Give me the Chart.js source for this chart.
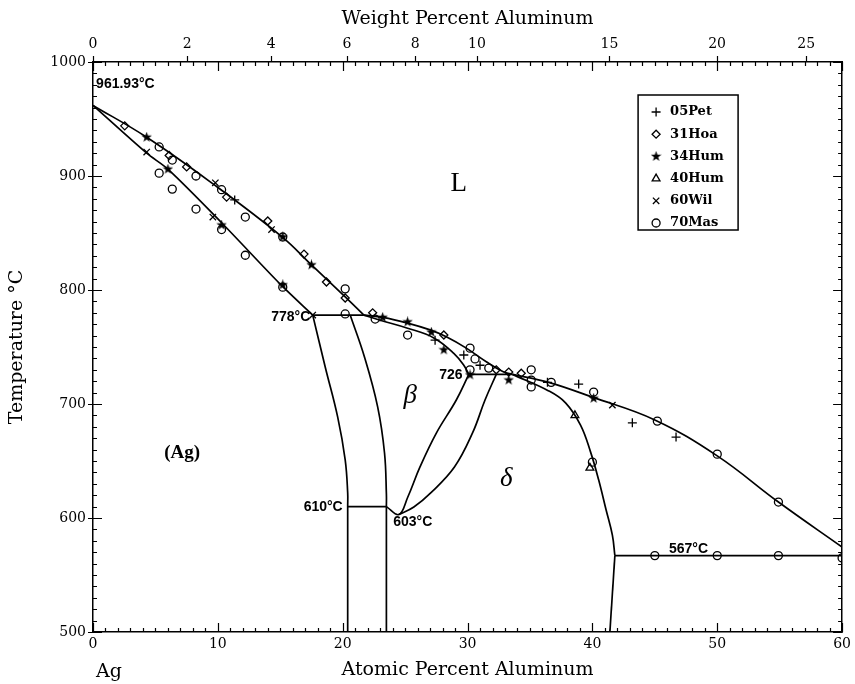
<!DOCTYPE html>
<html>
<head>
<meta charset="utf-8">
<script src="https://cdn.jsdelivr.net/npm/chart.js@4.4.0/dist/chart.umd.min.js"></script>
<style>
  body { margin: 0; background: #fff; }
  #wrap { width: 855px; height: 684px; }
</style>
</head>
<body>
<div id="wrap"><canvas id="phase" width="855" height="684"></canvas></div>
<script>
// Ag-Al phase diagram, x = atomic % Al, y = temperature in C

// phase boundaries
const liqLeftX = [0, 4.3, 9.5, 15.1, 17.5, 20.2, 21.7];
const liqLeftT = [961.93, 934, 894, 847, 822, 794, 778];
const solAgX = [0, 4.3, 6.0, 10.3, 15.1, 17.6];
const solAgT = [961.93, 920, 906, 859, 804, 778];
const peri778X = [17.6, 21.7];
const peri778T = [778, 778];
const solvusAgX = [17.6, 18.6, 19.6, 20.2, 20.4, 20.4, 20.4];
const solvusAgT = [778, 732.5, 688.5, 651, 622, 610, 500];
const betaLeftX = [20.6, 21.75, 22.8, 23.35, 23.5, 23.5, 23.5];
const betaLeftT = [778, 741, 697.5, 657, 621, 610, 500];
const eut610X = [20.4, 23.5];
const eut610T = [610, 610];
const betaInnerX = [23.5, 24.5, 25.2, 26.2, 27.5, 29.1, 30.1];
const betaInnerT = [610, 603, 618, 645, 674.5, 703.5, 726];
const betaOuterX = [24.5, 25.7, 27.05, 28.95, 30.4, 31.4, 32.3];
const betaOuterT = [603, 609.6, 622, 644.7, 674.6, 703.5, 726];
const liqMidX = [21.7, 23.2, 25.2, 27.0, 28.3, 29.9, 31.5, 32.9, 33.6];
const liqMidT = [778, 776, 771, 765, 759, 749, 737, 728, 726];
const solBetaX = [21.7, 23.0, 25.2, 27.3, 28.9, 29.7, 30.1];
const solBetaT = [778, 773.5, 766.5, 758, 744.5, 734, 726];
const peri726X = [30.1, 33.6];
const peri726T = [726, 726];
const liqRightX = [33.6, 36.5, 40.0, 45.0, 50.0, 54.9, 60];
const liqRightT = [726, 719, 706, 686, 654.5, 614, 574.5];
const solDeltaX = [33.6, 36.5, 37.85, 39.05, 39.85, 40.5, 41.1, 41.6, 41.8];
const solDeltaT = [726, 711.5, 701, 681.5, 658, 633.5, 607, 585, 567];
const eut567X = [41.8, 60];
const eut567T = [567, 567];
const deltaLowX = [41.8, 41.4];
const deltaLowT = [567, 500];

// experimental points
const petX = [11.35, 27.4, 29.7, 31.0, 36.4, 38.9, 43.2, 46.7];
const petT = [879, 756, 743, 734, 719, 717.5, 683.5, 671];
const hoaX = [2.54, 6.1, 7.5, 10.7, 14.0, 16.9, 18.7, 20.2, 22.4, 28.1, 32.3, 33.3, 34.3];
const hoaT = [944, 918, 908, 881.5, 860.5, 831.5, 807, 793, 780, 760.5, 730, 728, 727];
const hum34X = [4.3, 6.0, 10.3, 15.2, 15.2, 17.5, 23.2, 25.2, 27.1, 28.1, 30.2, 33.3, 40.1];
const hum34T = [934, 906, 857, 846.5, 804.5, 822, 776, 772, 763, 747.5, 725.5, 721, 705];
const hum40X = [38.6, 39.8];
const hum40T = [690, 644];
const wilX = [4.3, 9.6, 9.8, 14.3, 17.6, 41.6];
const wilT = [921, 864, 894, 853, 778, 699];
const masX = [5.3, 6.35, 8.25, 10.3, 12.2, 15.2, 20.2, 5.3, 6.35, 8.25, 10.3, 12.2, 15.2, 20.2,
  22.6, 25.2, 30.2, 30.6, 31.7, 30.2, 35.1, 35.1, 35.1, 36.7, 40.1, 40.0, 45.2, 50.0, 54.9, 60.0,
  45.0, 50.0, 54.9];
const masT = [925.5, 914, 900, 888, 864, 846.5, 801, 902.5, 888.5, 871, 853, 830.5, 802.5, 779,
  774.5, 760.5, 749, 739.5, 731.5, 730, 730, 721, 715, 719, 710.5, 649, 685, 656, 614, 565,
  567, 567, 567];

const sourceNames = ['05Pet', '31Hoa', '34Hum', '40Hum', '60Wil', '70Mas'];

// axis ticks
const atTicks = [0, 10, 20, 30, 40, 50, 60];
const tempTicks = [500, 600, 700, 800, 900, 1000];
const wtTicks = [0, 2, 4, 6, 8, 10, 15, 20, 25];

function wtToAt(w) {
  const a = w / 26.98, g = (100 - w) / 107.87;
  return 100 * a / (a + g);
}

function pts(xs, ys) {
  return xs.map((x, i) => ({ x: x, y: ys[i] }));
}

// filled star for 34Hum
function makeStar(size) {
  const c = document.createElement('canvas');
  c.width = c.height = size;
  const g = c.getContext('2d');
  g.fillStyle = '#000';
  g.beginPath();
  for (let i = 0; i < 10; i++) {
    const r = i % 2 ? size * 0.2 : size * 0.5;
    const ang = -Math.PI / 2 + i * Math.PI / 5;
    g.lineTo(size / 2 + r * Math.cos(ang), size / 2 + r * Math.sin(ang));
  }
  g.closePath();
  g.fill();
  return c;
}
const starImg = makeStar(11);

const markerStyles = ['cross', 'rectRot', starImg, 'triangle', 'crossRot', 'circle'];
const markerSizes = [4.5, 4, 5.5, 4.5, 4.5, 4];

function markerSet(i, xs, ys) {
  return {
    label: sourceNames[i],
    data: pts(xs, ys),
    showLine: false,
    pointStyle: markerStyles[i],
    pointRadius: markerSizes[i],
    pointBorderColor: '#000',
    pointBackgroundColor: 'rgba(0,0,0,0)',
    pointBorderWidth: 1.3
  };
}

function lineSet(xs, ys, tension) {
  return {
    data: pts(xs, ys),
    showLine: true,
    pointRadius: 0,
    borderColor: '#000',
    borderWidth: 1.7,
    tension: tension
  };
}

const datasets = [
  markerSet(0, petX, petT),
  markerSet(1, hoaX, hoaT),
  markerSet(2, hum34X, hum34T),
  markerSet(3, hum40X, hum40T),
  markerSet(4, wilX, wilT),
  markerSet(5, masX, masT),
  lineSet(liqLeftX, liqLeftT, 0.4),
  lineSet(solAgX, solAgT, 0.3),
  lineSet(peri778X, peri778T, 0),
  lineSet(solvusAgX, solvusAgT, 0.4),
  lineSet(betaLeftX, betaLeftT, 0.4),
  lineSet(eut610X, eut610T, 0),
  lineSet(betaInnerX, betaInnerT, 0.4),
  lineSet(betaOuterX, betaOuterT, 0.4),
  lineSet(liqMidX, liqMidT, 0.4),
  lineSet(solBetaX, solBetaT, 0.4),
  lineSet(peri726X, peri726T, 0),
  lineSet(liqRightX, liqRightT, 0.4),
  lineSet(solDeltaX, solDeltaT, 0.4),
  lineSet(eut567X, eut567T, 0),
  lineSet(deltaLowX, deltaLowT, 0)
];

// text in the plot, placed in data coordinates
const noteFont = 'bold 14px "Liberation Sans"';
const notes = [
  { text: '961.93°C', x: 0.25, y: 981, align: 'left', font: noteFont },
  { text: 'L', x: 29.3, y: 893, align: 'center', font: '27px "Liberation Serif"' },
  { text: '778°C', x: 17.4, y: 776, align: 'right', font: noteFont },
  { text: '726', x: 29.6, y: 725.5, align: 'right', font: noteFont },
  { text: 'β', x: 25.4, y: 707, align: 'center', font: 'italic 27px "Liberation Serif"' },
  { text: '(Ag)', x: 7.14, y: 657, align: 'center', font: 'bold 19px "Liberation Serif"' },
  { text: '610°C', x: 20.0, y: 609.6, align: 'right', font: noteFont },
  { text: '603°C', x: 24.05, y: 596.5, align: 'left', font: noteFont },
  { text: 'δ', x: 33.1, y: 634, align: 'center', font: 'italic 27px "Liberation Serif"' },
  { text: '567°C', x: 47.7, y: 573, align: 'center', font: noteFont }
];

const frameTicks = {
  id: 'frameTicks',
  afterDraw(chart) {
    const { ctx, chartArea: a } = chart;
    const x = chart.scales.x, y = chart.scales.y;
    ctx.save();
    ctx.strokeStyle = '#000';
    ctx.lineWidth = 1.2;
    ctx.beginPath();
    for (let v = 0; v <= 60; v++) {
      const px = Math.round(x.getPixelForValue(v)) + 0.5;
      const len = v % 10 === 0 ? 9 : 4;
      ctx.moveTo(px, a.bottom); ctx.lineTo(px, a.bottom - len);
      ctx.moveTo(px, a.top); ctx.lineTo(px, a.top + len);
    }
    for (let t = 500; t <= 1000; t += 10) {
      const py = Math.round(y.getPixelForValue(t)) + 0.5;
      const major = t % 100 === 0;
      const len = major ? 9 : 4;
      ctx.moveTo(a.left - (major ? 5 : 0), py); ctx.lineTo(a.left + len, py);
      ctx.moveTo(a.right, py); ctx.lineTo(a.right - len, py);
    }
    wtTicks.forEach(w => {
      const px = Math.round(x.getPixelForValue(wtToAt(w))) + 0.5;
      ctx.moveTo(px, a.top); ctx.lineTo(px, a.top - 6);
    });
    ctx.stroke();

    // labels inside the diagram
    ctx.fillStyle = '#000';
    ctx.textBaseline = 'middle';
    notes.forEach(n => {
      ctx.font = n.font;
      ctx.textAlign = n.align;
      ctx.fillText(n.text, x.getPixelForValue(n.x), y.getPixelForValue(n.y));
    });

    // "Ag" under the axis
    ctx.font = '19px "DejaVu Serif"';
    ctx.textAlign = 'left';
    ctx.fillText('Ag', x.getPixelForValue(0) + 3, a.bottom + 40);

    // legend box
    const bx = a.right - 204, by = a.top + 33, bw = 100, bh = 135;
    ctx.lineWidth = 1.5;
    ctx.strokeRect(bx, by, bw, bh);
    ctx.font = 'bold 13px "DejaVu Serif"';
    ctx.textAlign = 'left';
    chart.data.datasets.slice(0, 6).forEach((ds, i) => {
      const ry = by + 17 + i * 22.2;
      ctx.lineWidth = 1.3;
      ctx.strokeStyle = '#000';
      ctx.fillStyle = 'rgba(0,0,0,0)';
      Chart.helpers.drawPoint(ctx, {
        pointStyle: ds.pointStyle, radius: Math.min(ds.pointRadius, 4.5), rotation: 0, borderWidth: 1.3
      }, bx + 18, ry);
      ctx.fillStyle = '#000';
      ctx.fillText(ds.label, bx + 32, ry);
    });
    ctx.restore();
  }
};

const tickFont = { family: 'DejaVu Serif', size: 14 };
const titleFont = { family: 'DejaVu Serif', size: 19 };

new Chart(document.getElementById('phase'), {
  type: 'scatter',
  data: { datasets: datasets },
  options: {
    responsive: false,
    animation: false,
    layout: { padding: 0 },
    plugins: { legend: { display: false }, tooltip: { enabled: false } },
    scales: {
      x: {
        type: 'linear', position: 'bottom', min: 0, max: 60,
        afterBuildTicks: s => { s.ticks = atTicks.map(v => ({ value: v })); },
        ticks: { color: '#000', font: tickFont, padding: 4, maxRotation: 0, autoSkip: false,
          callback: v => String(v) },
        grid: { display: false, drawTicks: false },
        border: { display: true, color: '#000', width: 1.5 },
        title: { display: true, text: 'Atomic Percent Aluminum', color: '#000', font: titleFont, padding: { top: 0, bottom: 3 } },
        afterFit: s => { s.height = 52; }
      },
      x2: {
        type: 'linear', position: 'top', min: 0, max: 60,
        afterBuildTicks: s => { s.ticks = wtTicks.map(w => ({ value: wtToAt(w) })); },
        ticks: { color: '#000', font: tickFont, padding: 9, maxRotation: 0, autoSkip: false,
          callback: (v, i) => String(wtTicks[i]) },
        grid: { display: false, drawTicks: false },
        border: { display: true, color: '#000', width: 1.5 },
        title: { display: true, text: 'Weight Percent Aluminum', color: '#000', font: titleFont, padding: { top: 8, bottom: 0 } },
        afterFit: s => { s.height = 62; }
      },
      y: {
        type: 'linear', position: 'left', min: 500, max: 1000,
        afterBuildTicks: s => { s.ticks = tempTicks.map(v => ({ value: v })); },
        ticks: { color: '#000', font: tickFont, padding: 7, callback: v => String(v) },
        grid: { display: false, drawTicks: false },
        border: { display: true, color: '#000', width: 1.5 },
        title: { display: true, text: 'Temperature °C', color: '#000', font: titleFont, padding: { top: 6, bottom: 0 } },
        afterFit: s => { s.width = 93; }
      },
      y2: {
        type: 'linear', position: 'right', min: 500, max: 1000,
        ticks: { display: false },
        grid: { display: false, drawTicks: false },
        border: { display: true, color: '#000', width: 1.5 },
        afterFit: s => { s.width = 6; }
      }
    }
  },
  plugins: [frameTicks]
});
</script>
</body>
</html>
